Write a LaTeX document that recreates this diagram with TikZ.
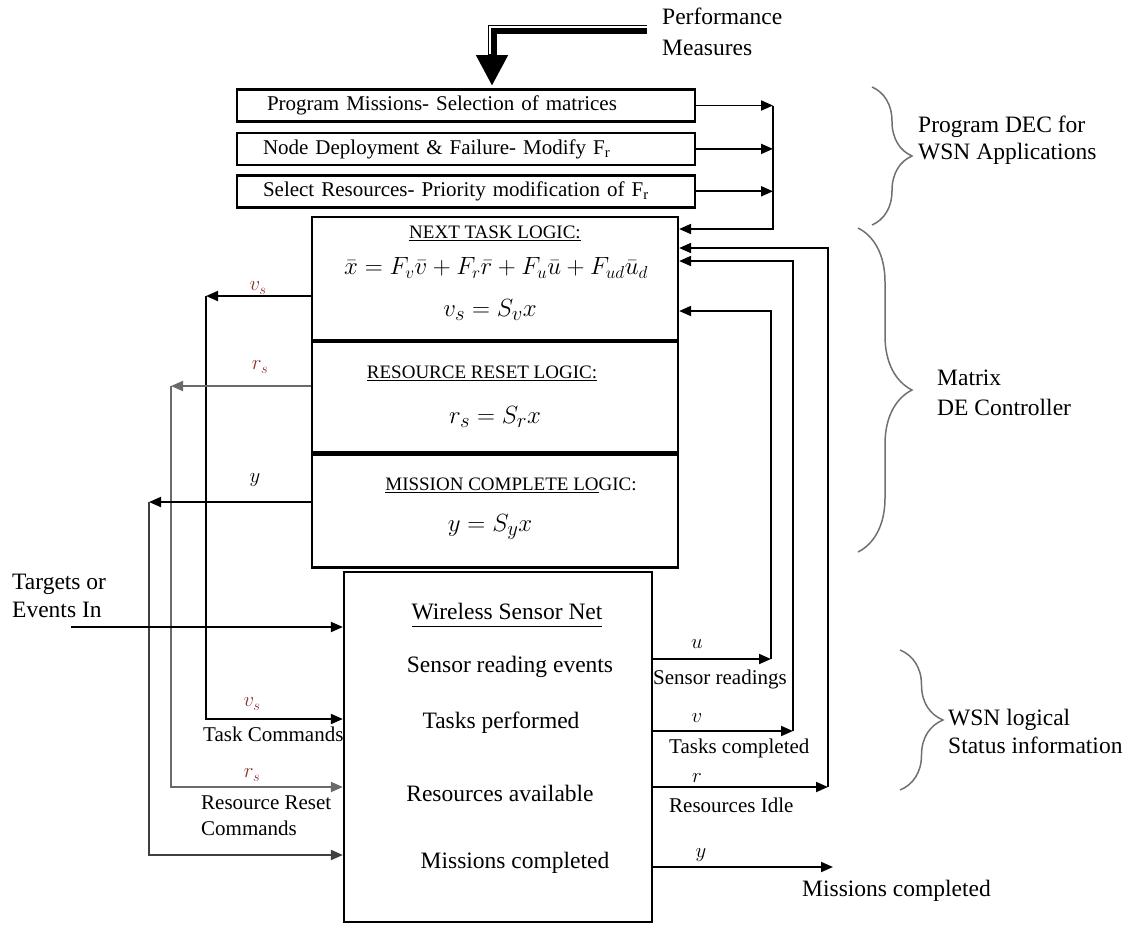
\documentclass[tikz,border=0pt]{standalone}
\usepackage{fontspec}
\setmainfont{Liberation Serif}
\usetikzlibrary{positioning,arrows.meta,decorations.pathreplacing,calc}
\definecolor{sigred}{HTML}{8A2E2E}
\definecolor{bracegray}{HTML}{707070}
\definecolor{wiregray}{HTML}{6A6A6A}

\begin{document}
\begin{tikzpicture}[x=1pt, y=-1pt,
  txt/.style={font=\fontsize{21}{26}\selectfont, inner sep=0pt, align=left},
  bigtxt/.style={font=\fontsize{23.5}{28}\selectfont, inner sep=0pt, align=left},
  headtxt/.style={font=\fontsize{19}{22}\selectfont, inner sep=0pt},
  eqtxt/.style={font=\fontsize{29}{32}\selectfont, inner sep=0pt},
  progbox/.style={draw, line width=2.4pt, minimum width=458pt, minimum height=32pt,
                  text width=406pt, inner xsep=26pt, inner ysep=0pt, align=left,
                  font=\fontsize{21}{25}\selectfont},
  logicbox/.style={draw, line width=2.2pt, minimum width=366pt, inner sep=0pt},
  wsnbox/.style={draw, line width=2.2pt, minimum width=308pt, minimum height=350pt, inner sep=0pt},
  arr/.style={-{Triangle[length=12pt,width=10pt]}, line width=1.9pt},
  sig/.style={font=\fontsize{20}{24}\selectfont, inner sep=0pt},
  curly/.style={decorate, decoration={brace, amplitude=#1}, draw=bracegray, line width=1.5pt},
  node distance=9pt
]
\useasboundingbox (0,0) rectangle (1134,924);

% programming of the controller
\node[progbox] (b1) at (466,105.5) {\hspace{4pt}Program Missions- Selection of matrices};
\node[progbox, below=9pt of b1] (b2) {Node Deployment \& Failure- Modify F\textsubscript{r}};
\node[progbox, below=8pt of b2] (b3) {Select Resources- Priority modification of F\textsubscript{r}};
\node[bigtxt, anchor=west, font=\fontsize{23.5}{31}\selectfont] (perf) at (662,32) {Performance\\Measures};

% matrix DE controller
\node[logicbox, minimum height=123pt] (nt) at (495,278.5) {};
\node[logicbox, minimum height=110pt, below=0pt of nt] (rr) {};
\node[logicbox, minimum height=113pt, below=0pt of rr] (mc) {};
\node[headtxt] (nth) at (495,233) {\underline{NEXT TASK LOGIC:}};
\node[font=\fontsize{24}{28}\selectfont, inner sep=0pt] (nteq) at (496,268)
  {$\bar{x} = F_v\bar{v} + F_r\bar{r} + F_u\bar{u} + F_{ud}\bar{u}_d$};
\node[eqtxt] (vseq) at (490,310) {$v_s = S_v x$};
\node[headtxt] (rrh) at (482,373) {\underline{RESOURCE RESET LOGIC:}};
\node[eqtxt] (rseq) at (495,417) {$r_s = S_r x$};
\node[headtxt] (mch) at (511,485) {\underline{MISSION COMPLETE LO}GIC:};
\node[eqtxt] (yeq) at (490,527) {$y = S_y x$};

% sensor network
\node[wsnbox] (wsn) at (498,747) {};
\node[bigtxt, anchor=base] (wt) at (507,619) {\underline{Wireless Sensor Net\rule[-5.5pt]{0pt}{0pt}}};
\node[bigtxt] (w1) at (510,667) {Sensor reading events};
\node[bigtxt] (w2) at (501,723) {Tasks performed};
\node[bigtxt] (w3) at (500,793) {Resources available};
\node[bigtxt] (w4) at (515,863) {Missions completed};

% port labels
\node[bigtxt, anchor=west] (tgtl) at (12,596) {Targets or\\Events In};
\node[txt, anchor=west] (tcl) at (203,734) {Task Commands};
\node[txt, anchor=west] (rcl) at (201,816) {Resource Reset\\Commands};
\node[txt, anchor=west] (srl) at (653,679) {Sensor readings};
\node[txt, anchor=west] (tcpl) at (669,748) {Tasks completed};
\node[txt, anchor=west] (ril) at (669,805) {Resources Idle};
\node[bigtxt, anchor=west] (mcl) at (802,891) {Missions completed};
\node[sig, text=sigred] (vsl) at (258,288) {$v_s$};
\node[sig, text=sigred] (rsl) at (260,367) {$r_s$};
\node[sig] (yl) at (255,480) {$y$};
\node[sig, text=sigred] (vsl2) at (252,704) {$v_s$};
\node[sig, text=sigred] (rsl2) at (252,775) {$r_s$};
\node[sig] (ul) at (697,644) {$u$};
\node[sig] (vl) at (697,718) {$v$};
\node[sig] (rl) at (697,778) {$r$};
\node[sig] (yl2) at (701,855) {$y$};

% brace labels
\node[bigtxt, anchor=west, font=\fontsize{23.5}{27}\selectfont] (decl) at (918,140) {Program DEC for\\WSN Applications};
\node[bigtxt, anchor=west, font=\fontsize{23.5}{30}\selectfont] (mdel) at (937,393) {Matrix\\DE Controller};
\node[bigtxt, anchor=west] (wsnl) at (948,731) {WSN logical\\Status information};
\draw[curly=40pt] (872,87) -- (872,225);
\draw[curly=54pt] (858,228) -- (858,552);
\draw[curly=43pt] (900,650) -- (900,790);

% performance measures
\coordinate (pmsrc) at (647,29);
\coordinate (pmtip) at (492,86);
\draw[line width=9pt, -{Triangle[length=31pt,width=30pt]}] (pmsrc) -| (pmtip);
\draw[white, line width=1.6pt] (647,27) -| (490,54);

% programming bus
\coordinate (bus) at (773,229);
\draw[arr] (b1) -- (b1 -| bus);
\draw[arr] (b2) -- (b2 -| bus);
\draw[arr] (b3) -- (b3 -| bus);
\draw[arr] (b1 -| bus) -- (bus) -- (bus -| nt.east);

% controller outputs
\coordinate (vsc) at (206,296);  \coordinate (vsin) at (206,719);
\coordinate (rsc) at (171,386);  \coordinate (rsin) at (171,787);
\coordinate (yc)  at (149,502);  \coordinate (yin)  at (149,855);
\draw[arr] (nt.west |- vsc) -- (vsc);
\draw[arr] (vsc) |- (wsn.west |- vsin);
\draw[arr, draw=wiregray] (rr.west |- rsc) -- (rsc);
\draw[arr, draw=wiregray] (rsc) |- (wsn.west |- rsin);
\draw[arr] (mc.west |- yc) -- (yc);
\draw[arr, draw=black!75] (yc) |- (wsn.west |- yin);

% events in, missions out
\coordinate (tgt) at (71,627);
\coordinate (mout) at (833,867);
\draw[arr] (tgt) -- (wsn.west |- tgt);
\draw[arr] (wsn.east |- mout) -- (mout);

% status feedback
\coordinate (uin) at (771,659);  \coordinate (utop) at (771,311);
\coordinate (vin) at (793,731);  \coordinate (vtop) at (793,261);
\coordinate (rin) at (828,787);  \coordinate (rtop) at (828,248);
\draw[arr] (wsn.east |- uin) -- (uin);
\draw[arr] (wsn.east |- vin) -- (vin);
\draw[arr] (wsn.east |- rin) -- (rin);
\draw[arr] (uin) -- (utop) -- (nt.east |- utop);
\draw[arr] (vin) -- (vtop) -- (nt.east |- vtop);
\draw[arr] (rin) -- (rtop) -- (nt.east |- rtop);
\end{tikzpicture}
\end{document}
